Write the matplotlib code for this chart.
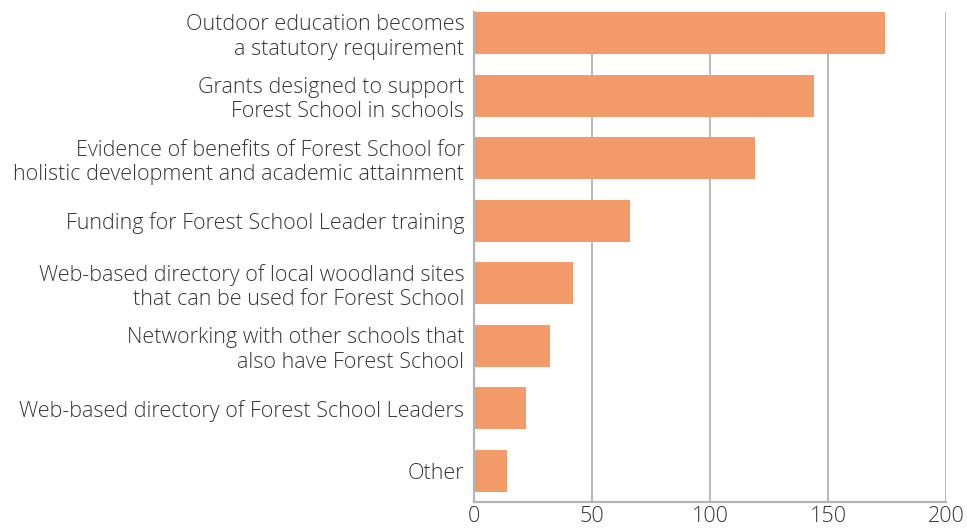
import matplotlib
matplotlib.use("Agg")
import matplotlib.pyplot as plt

categories = [
    "Outdoor education becomes\na statutory requirement",
    "Grants designed to support\nForest School in schools",
    "Evidence of benefits of Forest School for\nholistic development and academic attainment",
    "Funding for Forest School Leader training",
    "Web-based directory of local woodland sites\nthat can be used for Forest School",
    "Networking with other schools that\nalso have Forest School",
    "Web-based directory of Forest School Leaders",
    "Other",
]
values = [174, 144, 119, 66, 42, 32, 22, 14]
x_ticks = [0, 50, 100, 150, 200]

bar_color = "#F29B68"
text_color = "#363636"
line_color = "#b4b4b4"

plt.rcParams["font.family"] = ["Open Sans", "DejaVu Sans"]

fig = plt.figure(figsize=(9.67, 5.29), dpi=100)
ax = fig.add_axes([474 / 967, 1 - 502 / 529, 472 / 967, 490 / 529])

ypos = list(range(len(categories)))
ax.barh(ypos, values, height=0.67, color=bar_color, zorder=2)

ax.set_xlim(0, 200)
ax.set_ylim(len(categories) - 0.505, -0.335)
ax.set_xticks(x_ticks)
ax.set_xticklabels([str(t) for t in x_ticks], fontsize=15.5, color=text_color,
                   fontweight="light")
ax.set_yticks(ypos)
ax.set_yticklabels(categories, fontsize=15.5, color=text_color, linespacing=1.2,
                   fontweight="light")
ax.tick_params(axis="both", length=0)
ax.tick_params(axis="y", pad=7)
ax.tick_params(axis="x", pad=3)

ax.grid(axis="x", color=line_color, linewidth=1.3, zorder=1)
for side in ["top", "right"]:
    ax.spines[side].set_visible(False)
for side in ["left", "bottom"]:
    ax.spines[side].set_color(line_color)
    ax.spines[side].set_linewidth(1.6)
    ax.spines[side].set_zorder(3)

fig.savefig("out.png", dpi=100)
